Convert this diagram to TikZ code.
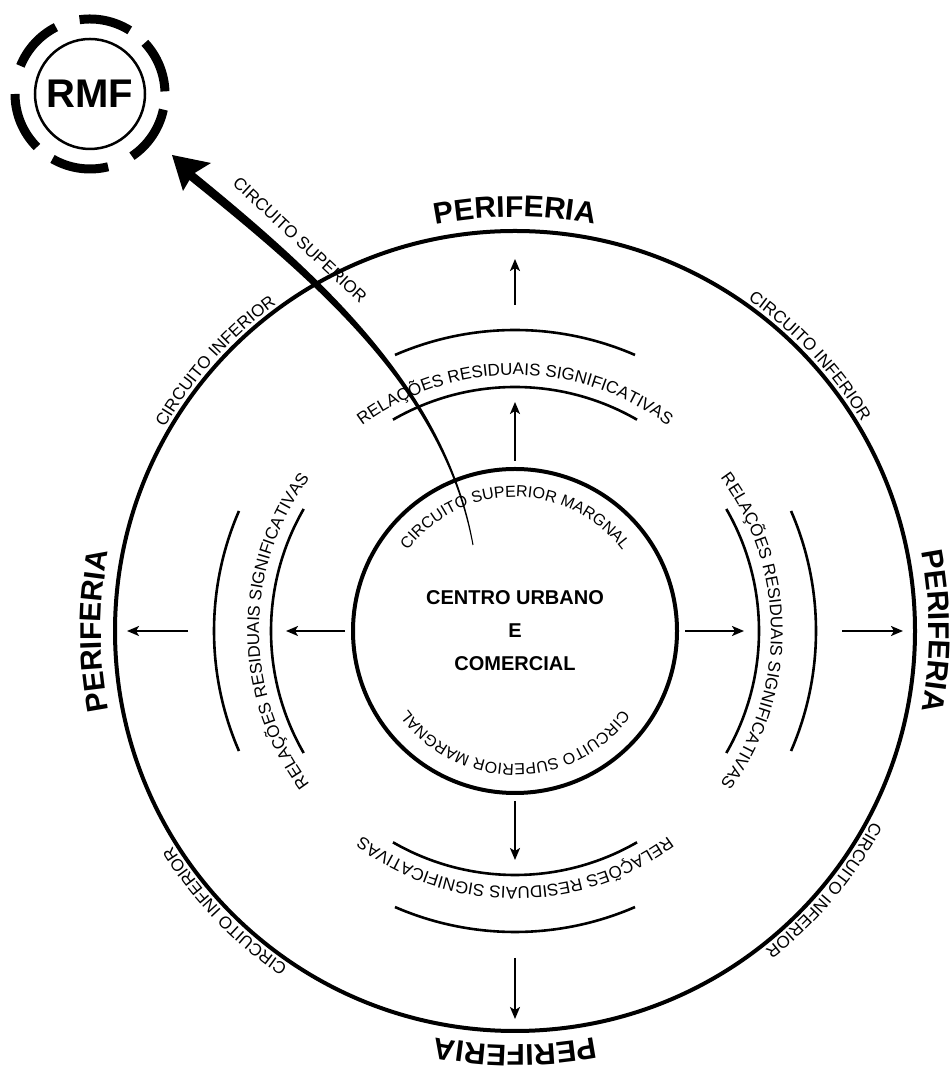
\documentclass[tikz,border=0pt]{standalone}
\usepackage{fontspec}
\setmainfont{Liberation Sans}
\usetikzlibrary{decorations.text,arrows.meta}
\begin{document}
\begin{tikzpicture}[x=1pt,y=1pt,
  arr/.style={line width=2pt,-{Stealth[length=12pt,width=10pt,inset=3pt]}},
  bigring/.style={draw,circle,line width=4pt,inner sep=0pt},
  rel/.style={line width=2.6pt},
  dashseg/.style={line width=9pt},
  small/.style={decorate,decoration={text along path,text align=center,
     text={|\fontsize{17}{17}\selectfont|#1}}},
  smaller/.style={decorate,decoration={text along path,text align=center,
     text={|\fontsize{16}{16}\selectfont|#1}}},
  perif/.style={decorate,decoration={text along path,text align=center,
     text={|\bfseries\fontsize{30}{30}\selectfont|PERIFERIA}}}
  ]
\useasboundingbox (0,0) rectangle (952,1070);
\coordinate (C) at (515,439);

% main circles
\node[bigring,minimum size=800pt] (outer) at (C) {};
\node[bigring,minimum size=324pt,align=center,
      font=\bfseries\fontsize{20}{33}\selectfont] (centro) at (C)
      {CENTRO URBANO\\E\\COMERCIAL};

% relacoes arcs
\foreach \c in {90,0,270,180}{
  \draw[rel] ([shift={(\c-30:244)}]C) arc[start angle=\c-30,end angle=\c+30,radius=244];
  \draw[rel] ([shift={(\c-23.5:301)}]C) arc[start angle=\c-23.5,end angle=\c+23.5,radius=301];
}

% arrows
\foreach \c in {0,180,270}{
  \draw[arr] ([shift={(\c:170)}]C) -- ([shift={(\c:229)}]C);
  \draw[arr] ([shift={(\c:327)}]C) -- ([shift={(\c:388)}]C);
}
\draw[arr] ([shift={(90:170)}]C) -- ([shift={(90:229)}]C);
\draw[arr] ([shift={(90:326)}]C) -- ([shift={(90:372)}]C);

% texts on circles
\foreach \c in {90,0,270,180}{
  \path[perif] ([shift={(\c+40:414)}]C) arc[start angle=\c+40,end angle=\c-40,radius=414];
  \path[small=RELAÇÕES RESIDUAIS SIGNIFICATIVAS] ([shift={(\c+60:256)}]C) arc[start angle=\c+60,end angle=\c-60,radius=256];
}
\foreach \c in {43,138,224,320}{
  \path[small=CIRCUITO INFERIOR] ([shift={(\c+45:405)}]C) arc[start angle=\c+45,end angle=\c-45,radius=405];
}
\path[smaller=CIRCUITO SUPERIOR MARGNAL] ([shift={(170:134)}]C) arc[start angle=170,end angle=10,radius=134];
\path[smaller=CIRCUITO SUPERIOR MARGNAL] ([shift={(350:133)}]C) arc[start angle=350,end angle=190,radius=133];

% RMF
\node[draw,circle,line width=2.5pt,minimum size=110pt,inner sep=0pt,
      font=\bfseries\fontsize{40}{40}\selectfont] (rmf) at (90,976) {RMF};
\foreach \a/\b in {58/98,2/43,-56/-12,-120/-76,180/225,117/158}{
  \draw[dashseg] ([shift={(\a:75)}]rmf.center) arc[start angle=\a,end angle=\b,radius=75];
}

% tapered arrow from centre to RMF
\coordinate (arrstart) at (473,525);
\coordinate (arrtip) at (172,915);
\fill (473.5,525.1) .. controls (446.5,680.3) and (322.6,793.1) .. (191.9,899.4)
   -- (186.1,892.6) .. controls (317.4,786.9) and (443.5,679.7) .. (472.5,524.9) -- cycle;
\fill (arrtip) -- (211,907) -- (193,896) -- (183,879) -- cycle;
\node[rotate=-43,font=\fontsize{17}{17}\selectfont,inner sep=0pt] (cs) at (300,830) {CIRCUITO SUPERIOR};
\end{tikzpicture}
\end{document}
